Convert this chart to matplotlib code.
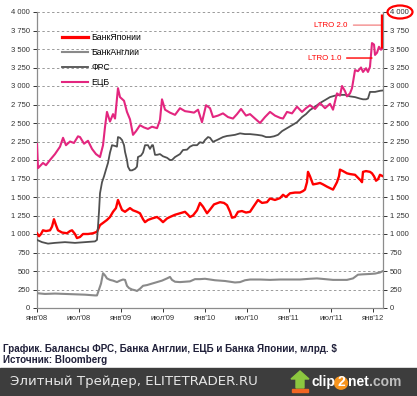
import matplotlib

matplotlib.use("Agg")
import matplotlib.pyplot as plt
from matplotlib.patches import Ellipse, Rectangle, Polygon, Circle

# decimal years, values in bln $
ecb_t = [2008.000, 2008.012, 2008.071, 2008.107, 2008.155, 2008.214, 2008.274, 2008.310,
         2008.345, 2008.393, 2008.440, 2008.488, 2008.512, 2008.560, 2008.607, 2008.655,
         2008.702, 2008.750, 2008.786, 2008.810, 2008.833, 2008.869, 2008.905, 2008.929,
         2008.964, 2008.988, 2009.036, 2009.071, 2009.107, 2009.143, 2009.179, 2009.226,
         2009.274, 2009.321, 2009.369, 2009.429, 2009.464, 2009.488, 2009.524, 2009.583,
         2009.643, 2009.702, 2009.762, 2009.821, 2009.869, 2009.917, 2009.964, 2010.012,
         2010.060, 2010.095, 2010.155, 2010.214, 2010.274, 2010.333, 2010.381, 2010.429,
         2010.488, 2010.536, 2010.595, 2010.655, 2010.714, 2010.774, 2010.833, 2010.893,
         2010.929, 2010.976, 2011.036, 2011.095, 2011.155, 2011.202, 2011.250, 2011.310,
         2011.369, 2011.429, 2011.488, 2011.524, 2011.571, 2011.607, 2011.631, 2011.667,
         2011.690, 2011.726, 2011.750, 2011.786, 2011.821, 2011.857, 2011.881, 2011.917,
         2011.940, 2011.964, 2011.988, 2012.012, 2012.024, 2012.048, 2012.071, 2012.095,
         2012.113]
ecb_v = [2216, 1890, 1960, 1930, 2000, 2080, 2180, 2300,
         2200, 2250, 2230, 2320, 2310, 2220, 2260, 2150,
         2080, 2040, 2200, 2450, 2650, 2520, 2620, 2560,
         2970, 2850, 2800, 2650, 2550, 2340, 2390, 2470,
         2440, 2420, 2450, 2430, 2540, 2820, 2680, 2640,
         2610, 2700, 2660, 2650, 2640, 2680, 2510, 2740,
         2700, 2580, 2600, 2630, 2580, 2560, 2620, 2690,
         2600, 2620, 2560, 2500, 2580, 2650, 2600, 2570,
         2560, 2650, 2630, 2720, 2650, 2700, 2740, 2690,
         2770, 2700, 2760, 2680, 2900, 2870, 3000, 2930,
         2860, 2900, 2970, 3215, 3200, 3250, 3190, 3240,
         3190, 3260, 3580, 3560, 3420, 3450, 3530, 3490,
         3510]

# LTRO 2.0 jump at the end of the ECB series
ltro2_t = [2012.113, 2012.113]
ltro2_v = [3520, 3970]

fed_t = [2008.000, 2008.060, 2008.131, 2008.214, 2008.333, 2008.452, 2008.571, 2008.690,
         2008.714, 2008.726, 2008.738, 2008.750, 2008.774, 2008.798, 2008.821, 2008.845,
         2008.869, 2008.893, 2008.929, 2008.952, 2008.964, 2008.988, 2009.012, 2009.036,
         2009.048, 2009.071, 2009.083, 2009.107, 2009.131, 2009.167, 2009.190, 2009.202,
         2009.238, 2009.262, 2009.286, 2009.321, 2009.345, 2009.369, 2009.381, 2009.405,
         2009.429, 2009.464, 2009.500, 2009.548, 2009.583, 2009.607, 2009.643, 2009.702,
         2009.738, 2009.786, 2009.821, 2009.857, 2009.905, 2009.940, 2009.976, 2010.000,
         2010.036, 2010.060, 2010.095, 2010.143, 2010.179, 2010.214, 2010.262, 2010.298,
         2010.357, 2010.417, 2010.476, 2010.536, 2010.619, 2010.679, 2010.726, 2010.774,
         2010.821, 2010.869, 2010.917, 2010.976, 2011.036, 2011.095, 2011.155, 2011.202,
         2011.250, 2011.310, 2011.369, 2011.429, 2011.488, 2011.548, 2011.607, 2011.667,
         2011.726, 2011.786, 2011.845, 2011.881, 2011.917, 2011.940, 2011.964, 2012.024,
         2012.083, 2012.119]
fed_v = [920, 890, 870, 880, 890, 880, 890, 900,
         920, 1100, 1300, 1550, 1700, 1780, 1870, 1960,
         2100, 2200, 2190, 2180, 2310, 2300, 2270, 2200,
         2110, 2000, 1910, 1860, 1860, 1880, 1910, 2040,
         2060, 2100, 2200, 2200, 2150, 2200, 2200, 2070,
         2070, 2080, 2050, 2030, 2000, 2000, 2040, 2080,
         2135, 2140, 2180, 2200, 2200, 2240, 2230, 2270,
         2310, 2300, 2245, 2270, 2290, 2310, 2325, 2330,
         2340, 2360, 2350, 2350, 2340, 2330, 2310, 2310,
         2320, 2340, 2390, 2430, 2470, 2510, 2580, 2620,
         2675, 2720, 2770, 2810, 2850, 2870, 2880, 2880,
         2860, 2850, 2830, 2820, 2820, 2830, 2920, 2920,
         2935, 2940]

boj_t = [2008.000, 2008.024, 2008.048, 2008.071, 2008.107, 2008.155, 2008.179, 2008.202,
         2008.226, 2008.250, 2008.298, 2008.357, 2008.393, 2008.417, 2008.452, 2008.476,
         2008.512, 2008.548, 2008.607, 2008.667, 2008.714, 2008.750, 2008.786, 2008.833,
         2008.869, 2008.905, 2008.940, 2008.964, 2008.988, 2009.012, 2009.048, 2009.083,
         2009.107, 2009.143, 2009.190, 2009.226, 2009.262, 2009.286, 2009.321, 2009.369,
         2009.429, 2009.464, 2009.500, 2009.548, 2009.583, 2009.643, 2009.702, 2009.762,
         2009.798, 2009.821, 2009.857, 2009.905, 2009.940, 2009.976, 2010.024, 2010.060,
         2010.107, 2010.155, 2010.179, 2010.226, 2010.262, 2010.298, 2010.321, 2010.357,
         2010.393, 2010.440, 2010.488, 2010.536, 2010.583, 2010.631, 2010.679, 2010.738,
         2010.774, 2010.833, 2010.893, 2010.929, 2010.964, 2011.012, 2011.071, 2011.131,
         2011.167, 2011.190, 2011.214, 2011.226, 2011.250, 2011.286, 2011.333, 2011.369,
         2011.405, 2011.452, 2011.488, 2011.524, 2011.548, 2011.571, 2011.595, 2011.607,
         2011.643, 2011.690, 2011.726, 2011.786, 2011.821, 2011.857, 2011.869, 2011.881,
         2011.917, 2011.964, 2011.988, 2012.012, 2012.036, 2012.060, 2012.083, 2012.119]
boj_v = [1010, 970, 1000, 1050, 1040, 1050, 1100, 1200,
         1120, 1050, 1020, 1010, 1040, 1050, 1000, 945,
         960, 1000, 1000, 1010, 1030, 1120, 1150, 1190,
         1230, 1300, 1350, 1460, 1390, 1325, 1300, 1330,
         1350, 1320, 1300, 1280, 1200, 1160, 1190, 1210,
         1230, 1200, 1160, 1210, 1230, 1260, 1280, 1300,
         1260, 1230, 1250, 1320, 1420, 1370, 1280, 1330,
         1400, 1420, 1430, 1420, 1390, 1300, 1220, 1230,
         1300, 1310, 1290, 1300, 1380, 1460, 1420, 1430,
         1480, 1460, 1485, 1530, 1500, 1550, 1560, 1560,
         1580, 1600, 1700, 1840, 1780, 1670, 1680, 1690,
         1670, 1640, 1620, 1600, 1650, 1700, 1780, 1870,
         1850, 1820, 1810, 1800, 1760, 1720, 1700, 1840,
         1850, 1840, 1820, 1780, 1720, 1740, 1800, 1780]

boe_t = [2008.000, 2008.095, 2008.214, 2008.333, 2008.452, 2008.571, 2008.690, 2008.714,
         2008.738, 2008.762, 2008.786, 2008.810, 2008.833, 2008.869, 2008.905, 2008.952,
         2008.988, 2009.024, 2009.048, 2009.071, 2009.095, 2009.131, 2009.167, 2009.190,
         2009.226, 2009.262, 2009.310, 2009.369, 2009.429, 2009.488, 2009.548, 2009.583,
         2009.607, 2009.643, 2009.702, 2009.762, 2009.821, 2009.881, 2009.940, 2010.000,
         2010.060, 2010.119, 2010.179, 2010.238, 2010.298, 2010.357, 2010.417, 2010.476,
         2010.536, 2010.655, 2010.774, 2010.893, 2011.012, 2011.131, 2011.250, 2011.333,
         2011.429, 2011.524, 2011.607, 2011.690, 2011.762, 2011.821, 2011.881, 2011.964,
         2012.024, 2012.083, 2012.119]
boe_v = [200, 190, 195, 190, 185, 180, 170, 170,
         250, 330, 470, 440, 400, 380, 370, 350,
         370, 385, 380, 300, 270, 250, 240, 230,
         260, 300, 310, 330, 350, 370, 400, 420,
         380, 355, 350, 355, 360, 390, 390, 395,
         385, 375, 370, 365, 355, 345, 350, 375,
         385, 385, 380, 385, 385, 385, 395, 400,
         390, 380, 380, 380, 400, 450, 455, 460,
         465, 480, 500]

y_ticks = list(range(0, 4001, 250))
y_labels = [f"{v:,}".replace(",", " ") for v in y_ticks]
x_ticks = [2008.0, 2008.5, 2009.0, 2009.5, 2010.0, 2010.5, 2011.0, 2011.5, 2012.0]
x_labels = ["янв'08", "июл'08", "янв'09", "июл'09", "янв'10", "июл'10", "янв'11", "июл'11", "янв'12"]

RED = "#ff0000"
PINK = "#e3267f"
DARK = "#505050"
GRAY = "#8a8a8a"

plt.rcParams["font.family"] = ["Liberation Sans", "DejaVu Sans"]

W, H = 417, 396
fig = plt.figure(figsize=(W / 100, H / 100), dpi=100)
ax = fig.add_axes([37 / W, 1 - 308 / H, 346 / W, 296 / H])

for v in y_ticks[1:]:
    ax.axhline(v, color="#9a9a9a", lw=0.7, ls=(0, (2.5, 2.5)), zorder=0)

ax.plot(boj_t, boj_v, color=RED, lw=1.7, label="БанкЯпонии", zorder=3)
ax.plot(boe_t, boe_v, color=GRAY, lw=1.5, label="БанкАнглии", zorder=3)
ax.plot(fed_t, fed_v, color=DARK, lw=1.3, label="ФРС", zorder=3)
ax.plot(ecb_t, ecb_v, color=PINK, lw=1.5, label="ЕЦБ", zorder=3)
ax.plot(ltro2_t, ltro2_v, color=RED, lw=2.4, solid_capstyle="butt", zorder=4)

ax.set_xlim(2008.0, 2012.119)
ax.set_ylim(0, 4000)
ax.set_yticks(y_ticks)
ax.set_yticklabels(y_labels)
ax.set_xticks(x_ticks)
ax.set_xticklabels(x_labels)
ax.tick_params(axis="y", which="both", left=True, right=True, labelleft=True, labelright=True,
               labelsize=5.5, colors="#333333", length=3, width=0.7, pad=2)
ax.tick_params(axis="x", labelsize=5.5, colors="#333333", length=3, width=0.7, pad=2)
for side in ("left", "right", "bottom"):
    ax.spines[side].set_color("#8c8c8c")
    ax.spines[side].set_linewidth(0.9)
ax.spines["top"].set_visible(False)

leg = ax.legend(loc="upper left", bbox_to_anchor=(0.06, 0.945), frameon=False, fontsize=6.3,
                handlelength=3.0, handletextpad=0.3, labelspacing=0.7, borderpad=0)
leg.get_lines()[0].set_linewidth(2.3)

# LTRO annotations
ax.annotate("LTRO 2.0", xy=(2012.10, 3823), xytext=(2011.70, 3823), color=RED,
            fontsize=5.7, ha="right", va="center",
            arrowprops=dict(arrowstyle="-", color="#f07070", lw=0.8, shrinkA=2, shrinkB=0))
ax.annotate("LTRO 1.0", xy=(2011.988, 3378), xytext=(2011.62, 3378), color=RED,
            fontsize=5.7, ha="right", va="center",
            arrowprops=dict(arrowstyle="-", color=RED, lw=1.0, shrinkA=2, shrinkB=0))

# red ellipse around the right "4 000" label
fig.add_artist(Ellipse((400 / W, 1 - 12 / H), 25 / W, 13 / H, transform=fig.transFigure,
                       fill=False, edgecolor=RED, lw=1.6))

# caption
fig.text(3 / W, 1 - 349 / H, "График. Балансы ФРС, Банка Англии, ЕЦБ и Банка Японии, млрд. $",
         fontsize=7.1, fontweight="bold", color="#20203a", va="center", ha="left")
fig.text(3 / W, 1 - 360 / H, "Источник: Bloomberg",
         fontsize=7.1, fontweight="bold", color="#20203a", va="center", ha="left")

# bottom banner
fig.add_artist(Rectangle((0, 0), 1, 28 / H, transform=fig.transFigure, color="#3d3d3d", zorder=0))
fig.text(10 / W, 1 - 382 / H, "Элитный Трейдер, ELITETRADER.RU", fontsize=9.6, color="#e6e6e6",
         family="DejaVu Sans", va="center", ha="left")


def fx(px):
    return px / W


def fy(py):
    return 1 - py / H


arrow = [(fx(300), fy(371)), (fx(309), fy(379)), (fx(304), fy(379)), (fx(304), fy(388)),
         (fx(296), fy(388)), (fx(296), fy(379)), (fx(291), fy(379))]
fig.add_artist(Polygon(arrow, closed=True, transform=fig.transFigure, color="#8cc63f", zorder=2))
fig.add_artist(Rectangle((fx(292), fy(392)), 16 / W, 3 / H, transform=fig.transFigure,
                         color="#f26522", zorder=2))
fig.text(fx(312), fy(382), "clip", fontsize=10, fontweight="bold", color="white", va="center")
fig.add_artist(Circle((fx(341), fy(383)), 6.5 / W, transform=fig.transFigure, color="#f7941d", zorder=2))
fig.text(fx(341), fy(382), "2", fontsize=10, fontweight="bold", color="white", va="center",
         ha="center", zorder=3)
fig.text(fx(348), fy(382), "net", fontsize=10, fontweight="bold", color="white", va="center")
fig.text(fx(369), fy(382), ".com", fontsize=10, fontweight="bold", color="#bdbdbd", va="center")

fig.savefig("out.png", dpi=100)
